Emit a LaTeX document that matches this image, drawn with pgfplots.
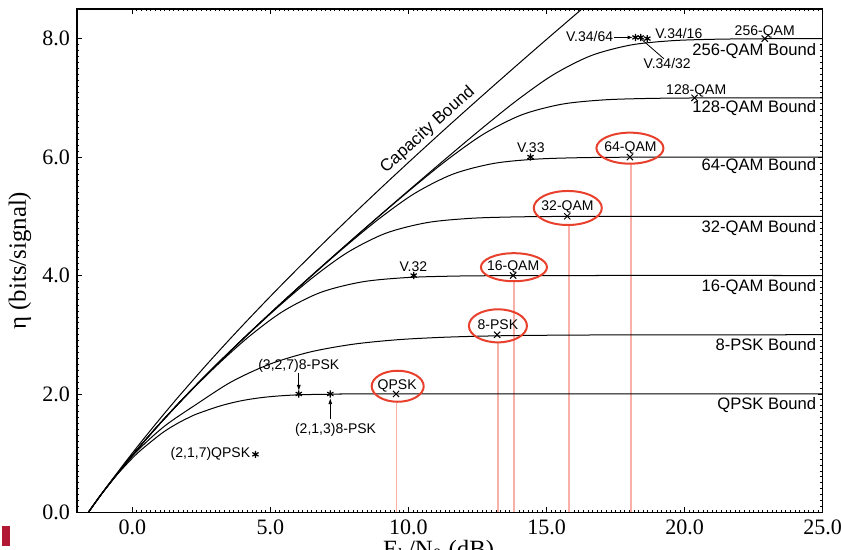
\documentclass[border=0pt]{standalone}
\usepackage{pgfplots}
\pgfplotsset{compat=1.18}
\usepackage{fontspec}
\setmainfont{Liberation Sans}
\newfontfamily\seriffont{Liberation Serif}
\usetikzlibrary{arrows.meta}
\definecolor{ellred}{RGB}{232,64,44}
\definecolor{pinkline}{RGB}{248,176,168}
\definecolor{crim}{RGB}{178,24,52}
\newcommand{\sm}{\fontsize{7}{8}\selectfont}
\newcommand{\bd}{\fontsize{8.3}{10}\selectfont}
\begin{document}
\begin{tikzpicture}
\begin{axis}[
  scale only axis, width=372.5pt, height=251.5pt,
  xmin=-2, xmax=25, ymin=0, ymax=8.5,
  xtick={0,5,10,15,20,25}, ytick={0,2,4,6,8},
  minor x tick num=29, minor y tick num=19,
  major tick length=2.5pt, minor tick length=1.2pt,
  tick style={black, line width=0.4pt},
  axis line style={line width=0.8pt},
  /pgf/number format/assume math mode=true,
  x tick label style={/pgf/number format/.cd, fixed, fixed zerofill, precision=1},
  y tick label style={/pgf/number format/.cd, fixed, fixed zerofill, precision=1},
  tick label style={font=\seriffont\fontsize{11}{13}\selectfont},
  ylabel={\seriffont\fontsize{12.4}{14}\selectfont η (bits/signal)},
  ylabel style={at={(axis description cs:-0.0765,0.5)}, anchor=center},
  xlabel={\seriffont\fontsize{12.4}{14}\selectfont E\textsubscript{b}/N\textsubscript{0} (dB)},
  xlabel style={at={(axis description cs:0.485,0)}, anchor=north, inner sep=0pt, yshift=-13.5pt},
  clip=false,
  every axis plot/.append style={line width=0.5pt},
]
\coordinate (SW) at (rel axis cs:0,0);
\coordinate (NE) at (rel axis cs:1,1);
% pink guide lines
\addplot[pinkline, line width=0.9pt] coordinates {(9.57,1.87) (9.57,0)};
\addplot[pinkline, line width=0.9pt] coordinates {(13.24,2.86) (13.24,0)};
\addplot[pinkline, line width=0.9pt] coordinates {(13.82,3.90) (13.82,0)};
\addplot[pinkline, line width=0.9pt] coordinates {(15.80,4.84) (15.80,0)};
\addplot[pinkline, line width=0.9pt] coordinates {(18.06,5.89) (18.06,0)};
% capacity
\addplot[black, smooth] coordinates {(-1.592,0) (-1.210,0.25) (-0.817,0.5) (-0.414,0.75) (0,1) (0.425,1.25) (0.860,1.5) (1.305,1.75) (1.761,2) (2.701,2.5) (3.680,3) (4.694,3.5) (5.740,4) (6.818,4.5) (7.924,5) (9.056,5.5) (10.212,6) (11.389,6.5) (12.587,7) (13.802,7.5) (15.034,8) (16.281,8.5)};
% QPSK
\addplot[black, smooth] coordinates {(-1.592,0) (-1.210,0.25) (-0.794,0.5) (-0.495,0.667) (0.187,1.0) (1.059,1.333) (1.626,1.5) (2.040,1.6) (2.362,1.667) (3.2,1.8) (4.0,1.89) (4.9,1.95) (6.0,1.985) (7.5,1.997) (9.0,2.0) (25,2)};
% 8-PSK
\addplot[black, smooth] coordinates {(-1.592,0) (-1.210,0.25) (-0.801,0.5) (0.10,1.0) (1.15,1.45) (2.365,1.839) (3.599,2.2075) (4.958,2.5) (6.429,2.7075) (7.984,2.839) (9.586,2.915) (11.208,2.956) (12.828,2.978) (14.438,2.989) (17.611,2.997) (25,3)};
% 16-QAM
\addplot[black, smooth] coordinates {(-1.592,0) (-1.210,0.25) (-0.801,0.5) (0.065,1.0) (1.002,1.499) (2.007,1.997) (3.077,2.489) (4.217,2.965) (5.449,3.393) (6.817,3.714) (8.330,3.893) (9.932,3.965) (11.558,3.989) (13.176,3.997) (16.358,4.0) (25,4)};
% 32-QAM
\addplot[black, smooth] coordinates {(-1.592,0) (-1.210,0.25) (-0.801,0.5) (0.064,1.0) (1.0,1.5) (2.001,2.0) (3.060,2.499) (4.171,2.997) (5.327,3.489) (6.533,3.965) (7.805,4.393) (9.181,4.714) (10.671,4.893) (12.233,4.965) (13.815,4.989) (15.391,4.997) (16.955,4.999) (25,5)};
% 64-QAM
\addplot[black, smooth] coordinates {(-1.592,0) (-1.210,0.25) (-0.801,0.5) (0.064,1.0) (1.0,1.5) (2.0,2.0) (3.058,2.5) (4.167,3.0) (5.315,3.499) (6.499,3.997) (7.711,4.489) (8.956,4.965) (10.249,5.393) (11.623,5.714) (13.092,5.893) (14.622,5.965) (16.170,5.989) (17.716,5.997) (19.254,5.999) (25,6)};
% 128-QAM
\addplot[black, smooth] coordinates {(-1.592,0) (-1.210,0.25) (-0.801,0.5) (0.064,1.0) (1.0,1.5) (2.0,2.0) (3.058,2.5) (4.166,3.0) (5.314,3.5) (6.496,4.0) (7.701,4.499) (8.928,4.997) (10.172,5.489) (11.437,5.965) (12.739,6.393) (14.108,6.714) (15.560,6.893) (17.066,6.965) (18.591,6.989) (20.117,6.997) (21.639,6.999) (25,7)};
% 256-QAM
\addplot[black, smooth] coordinates {(-1.592,0) (-1.210,0.25) (-0.801,0.5) (0.064,1.0) (1.0,1.5) (2.0,2.0) (3.058,2.5) (4.166,3.0) (5.314,3.5) (6.495,4.0) (7.701,4.5) (8.925,5.0) (10.164,5.499) (11.414,5.997) (12.673,6.489) (13.949,6.965) (15.255,7.393) (16.622,7.714) (18.063,7.893) (19.554,7.965) (21.064,7.989) (22.578,7.997) (25,8)};
% coded systems (asterisks)
\addplot[only marks, mark=asterisk, mark size=1.8pt, line width=0.6pt, black] coordinates {(10.19,4.0) (14.42,6.0) (6.03,2.0) (7.17,2.0) (4.46,0.98) (18.22,8.02) (18.41,8.02) (18.65,8.0)};
% uncoded constellations (x)
\addplot[only marks, mark=x, mark size=2.2pt, line width=0.5pt, black] coordinates {(9.55,2.0) (13.21,3.0) (13.79,4.0) (15.75,5.0) (18.02,6.0) (20.36,7.0) (22.9,8.0)};
% ellipses
\draw[ellred, line width=1pt] (axis cs:9.61,2.13) ellipse (13pt and 7.75pt);
\draw[ellred, line width=1pt] (axis cs:13.24,3.15) ellipse (14.5pt and 8.25pt);
\draw[ellred, line width=1pt] (axis cs:13.82,4.14) ellipse (16.5pt and 7pt);
\draw[ellred, line width=1pt] (axis cs:15.77,5.14) ellipse (17pt and 8.5pt);
\draw[ellred, line width=1pt] (axis cs:18.02,6.15) ellipse (16.75pt and 7.75pt);
% labels in ellipses
\node[font=\sm] at (axis cs:9.59,2.135) {QPSK};
\node[font=\sm] at (axis cs:13.24,3.17) {8-PSK};
\node[font=\sm] at (axis cs:13.79,4.15) {16-QAM};
\node[font=\sm] at (axis cs:15.76,5.15) {32-QAM};
\node[font=\sm] at (axis cs:18.04,6.15) {64-QAM};
\node[font=\sm] at (axis cs:20.42,7.12) {128-QAM};
\node[font=\sm] at (axis cs:22.9,8.11) {256-QAM};
% other labels
\node[font=\sm] at (axis cs:10.18,4.15) {V.32};
\node[font=\sm] at (axis cs:14.43,6.16) {V.33};
\node[font=\sm] at (axis cs:6.03,2.47) {(3,2,7)8-PSK};
\draw[-{Latex[length=3pt,width=2pt]}, line width=0.4pt] (axis cs:6.03,2.35) -- (axis cs:6.03,2.05);
\node[font=\sm] at (axis cs:7.36,1.39) {(2,1,3)8-PSK};
\draw[-{Latex[length=3pt,width=2pt]}, line width=0.4pt] (axis cs:7.17,1.585) -- (axis cs:7.17,1.93);
\node[font=\sm] at (axis cs:2.83,0.98) {(2,1,7)QPSK};
\node[font=\sm] at (axis cs:16.56,8.04) {V.34/64};
\draw[-{Latex[length=2.5pt,width=2pt]}, line width=0.4pt] (axis cs:17.44,8.02) -- (axis cs:18.12,8.02);
\node[font=\sm] at (axis cs:19.79,8.08) {V.34/16};
\node[font=\sm] at (axis cs:19.37,7.58) {V.34/32};
\draw[line width=0.4pt] (axis cs:18.41,8.0) -- (axis cs:19.25,7.66);
\node[font=\fontsize{8.5}{10}\selectfont, rotate=42, inner sep=1pt] at (axis cs:10.70,6.46) {Capacity Bound};
% bound labels
\node[font=\bd, anchor=east, inner sep=0pt] at (axis cs:24.78,7.79) {256-QAM Bound};
\node[font=\bd, anchor=east, inner sep=0pt] at (axis cs:24.78,6.83) {128-QAM Bound};
\node[font=\bd, anchor=east, inner sep=0pt] at (axis cs:24.78,5.84) {64-QAM Bound};
\node[font=\bd, anchor=east, inner sep=0pt] at (axis cs:24.78,4.80) {32-QAM Bound};
\node[font=\bd, anchor=east, inner sep=0pt] at (axis cs:24.78,3.81) {16-QAM Bound};
\node[font=\bd, anchor=east, inner sep=0pt] at (axis cs:24.78,2.83) {8-PSK Bound};
\node[font=\bd, anchor=east, inner sep=0pt] at (axis cs:24.78,1.81) {QPSK Bound};
\end{axis}
\fill[crim] ([xshift=-37.7pt,yshift=-7pt]SW) rectangle ([xshift=-33.5pt,yshift=-16.8pt]SW);
\pgfresetboundingbox
\path[use as bounding box] ([xshift=-38.5pt,yshift=-18.5pt]SW) rectangle ([xshift=9.15pt,yshift=4.5pt]NE);
\end{tikzpicture}
\end{document}
